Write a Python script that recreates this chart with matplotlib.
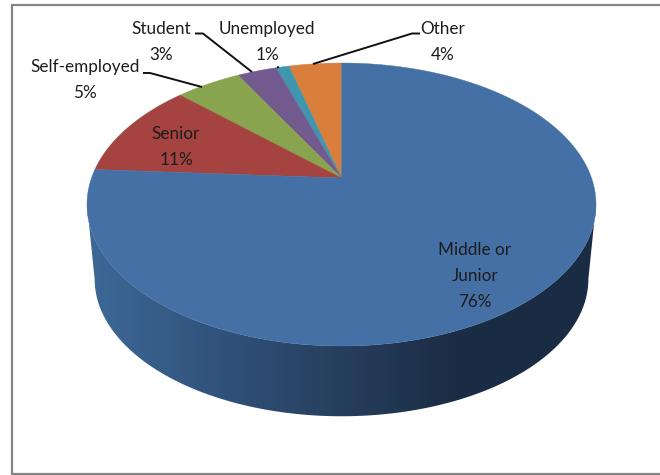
import numpy as np
import matplotlib
matplotlib.use('Agg')
import matplotlib.pyplot as plt
from matplotlib.colors import LinearSegmentedColormap
from matplotlib.patches import Polygon

# slices run counter-clockwise from twelve o'clock
labels = ['Other', 'Unemployed', 'Student', 'Self-employed', 'Senior', 'Middle or\nJunior']
shares = [4, 1, 3, 5, 11, 76]
colors = ['#d97f3b', '#3f96ae', '#725a8f', '#88a44e', '#a4433f', '#4570a5']

plt.rcParams['font.family'] = ['Lato', 'DejaVu Sans']

# tilted disc: top face is an ellipse, its hub sits above the ellipse centre
cx, top, hub, bottom = 341.5, 63.0, 178.0, 346.0
rx = 254.5
ry = (bottom - top) / 2
cy = (bottom + top) / 2
k = (2 * hub - top - bottom) / (top - bottom)
q = top * (1 + k) - hub
a = rx * np.sqrt(1 - k ** 2)
depth_cy = 279.0
shrink = 0.97


def project(theta):
    x, y = np.cos(theta), np.sin(theta)
    d = 1 + k * y
    return cx + a * x / d, (hub + q * y) / d


fig = plt.figure(figsize=(6.6, 4.75), dpi=100)
ax = fig.add_axes([0, 0, 1, 1])
ax.set_xlim(0, 660)
ax.set_ylim(475, 0)
ax.axis('off')

# chart border, open on the right
ax.plot([664, 11.5, 11.5, 664], [5, 5, 473.5, 473.5], color='#868686', lw=1.6, solid_joinstyle='miter')

# side wall with a horizontal shade
t = np.linspace(np.pi, 2 * np.pi, 300)
upper = np.column_stack([cx + rx * np.cos(t), cy - ry * np.sin(t)])
lower = np.column_stack([cx + shrink * rx * np.cos(t), depth_cy - shrink * ry * np.sin(t)])
wall = Polygon(np.vstack([upper, lower[::-1]]), closed=True, fc='none', ec='none')
ax.add_patch(wall)
shade = LinearSegmentedColormap.from_list('wall', [
    (0.0, '#3d6997'), (0.27, '#30517a'), (0.53, '#253c5a'), (0.72, '#1b2d44'), (1.0, '#1a2c43')])
im = ax.imshow(np.linspace(0, 1, 256)[None, :], extent=(87, 596, 475, 0), cmap=shade, aspect='auto', zorder=1)
im.set_clip_path(wall)
ax.set_xlim(0, 660)
ax.set_ylim(475, 0)

# top face slices
edges = 2 * np.pi * np.cumsum([0] + shares) / sum(shares) + np.pi / 2
for i, c in enumerate(colors):
    th = np.linspace(edges[i], edges[i + 1], max(4, int(shares[i] * 8)))
    px, py = project(th)
    ax.fill(np.r_[cx, px], np.r_[hub, py], fc=c, ec=c, lw=0.3, zorder=2)

# labels, one per slice, with the share on the last line
label_pos = [(443, 42), (267, 42), (161, 42), (85, 80), (176, 147), (475, 276)]
txt = dict(ha='center', va='center', fontsize=12.3, color='#1c1c1c', linespacing=1.75, zorder=4)
for name, share, (lx, ly) in zip(labels, shares, label_pos):
    ax.text(lx, ly, f'{name}\n{share}%', **txt)

# leader lines
lead = dict(color='#111111', lw=1.4, zorder=3, solid_capstyle='butt')
ax.plot([143, 150, 202], [73, 73, 87], **lead)
ax.plot([195, 203, 252], [33.5, 33.5, 72], **lead)
ax.plot([277, 279], [67, 67.5], **lead)
ax.plot([420, 412, 313], [33.5, 33.5, 64], **lead)

fig.savefig('out.png', dpi=100)
